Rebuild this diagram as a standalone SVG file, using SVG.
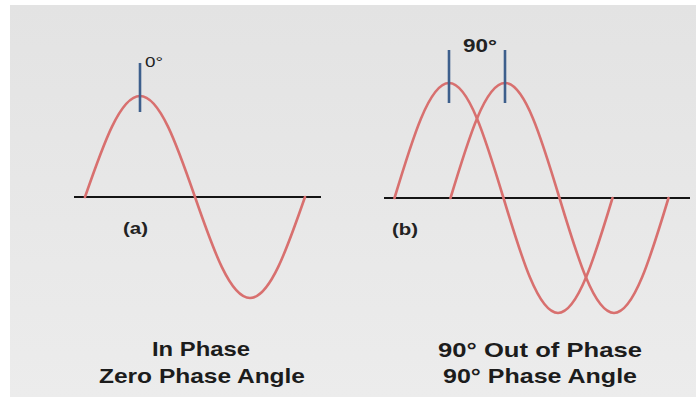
<svg xmlns="http://www.w3.org/2000/svg" width="698" height="398" viewBox="0 0 698 398">
  <defs>
    <linearGradient id="bg" x1="0" y1="0" x2="0" y2="1">
      <stop offset="0" stop-color="#e3e3e3"/>
      <stop offset="1" stop-color="#ececec"/>
    </linearGradient>
    <path id="waveB" d="M394.5,198 C412.27,139.09 429.28,83 449,83 C468.72,83 485.73,139.09 503.5,198 C521.27,256.91 538.28,313 558,313 C577.72,313 594.73,256.91 612.5,198"/>
  </defs>
  <style>
    .wave { fill: none; stroke: #d8706f; stroke-width: 2.6; stroke-linecap: round; }
    .axis { stroke: #141414; stroke-width: 2; }
    .tick { stroke: #3d5f8c; stroke-width: 2.6; }
    .lbl { font-family: "Liberation Sans", Arial, sans-serif; fill: #222; }
    .bold { font-weight: bold; }
    .cap { font-family: "Liberation Sans", Arial, sans-serif; font-weight: bold; font-size: 20.5px; fill: #1c1c1c; }
  </style>
  <rect x="0" y="0" width="698" height="398" fill="#ffffff"/>
  <rect x="10" y="5" width="686" height="392" fill="url(#bg)"/>

  <g id="panel-a">
    <line class="axis" x1="74" y1="197" x2="321" y2="197"/>
    <path class="wave" d="M85,197 C102.94,145.26 120.1,96 140,96 C159.9,96 177.06,145.26 195,197 C212.94,248.74 230.1,298 250,298 C269.9,298 287.06,248.74 305,197"/>
    <line class="tick" x1="140" y1="63" x2="140" y2="112"/>
    <text class="lbl" x="145" y="67" font-size="15" textLength="18" lengthAdjust="spacingAndGlyphs">0°</text>
    <text class="lbl bold" x="123" y="234" font-size="16.5" textLength="25" lengthAdjust="spacingAndGlyphs">(a)</text>
  </g>

  <g id="panel-b">
    <line class="axis" x1="384" y1="198" x2="690" y2="198"/>
    <use href="#waveB" class="wave"/>
    <use href="#waveB" class="wave" transform="translate(56,0)"/>
    <line class="tick" x1="449" y1="50" x2="449" y2="103"/>
    <line class="tick" x1="505" y1="50" x2="505" y2="103"/>
    <text class="lbl bold" x="463" y="52" font-size="19" textLength="34" lengthAdjust="spacingAndGlyphs">90°</text>
    <text class="lbl bold" x="392" y="235" font-size="16.5" textLength="26" lengthAdjust="spacingAndGlyphs">(b)</text>
  </g>

  <g id="caption-a">
    <text class="cap" x="152" y="356" textLength="98" lengthAdjust="spacingAndGlyphs">In Phase</text>
    <text class="cap" x="99" y="383" textLength="206" lengthAdjust="spacingAndGlyphs">Zero Phase Angle</text>
  </g>
  <g id="caption-b">
    <text class="cap" x="438" y="357" textLength="204" lengthAdjust="spacingAndGlyphs">90° Out of Phase</text>
    <text class="cap" x="443" y="383" textLength="194" lengthAdjust="spacingAndGlyphs">90° Phase Angle</text>
  </g>
</svg>
